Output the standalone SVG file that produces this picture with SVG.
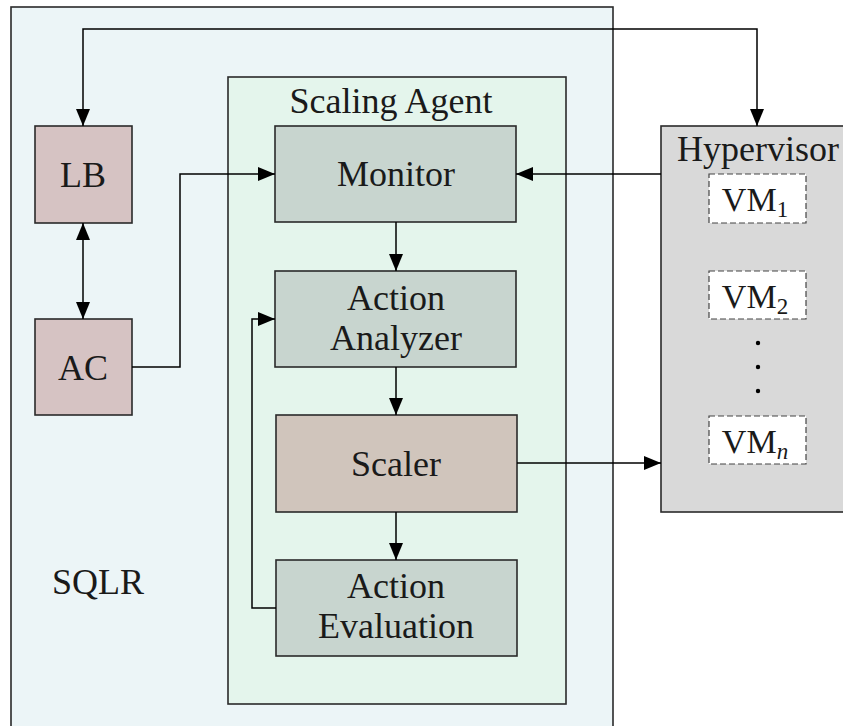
<svg xmlns="http://www.w3.org/2000/svg" width="843" height="726" viewBox="0 0 843 726">
<style>
.t{font-family:"Liberation Serif","DejaVu Serif",serif;font-size:36px;fill:#1a1a1a;text-anchor:middle}
.box{stroke:#2a2a2a;stroke-width:1.6}
.vm{fill:#ffffff;stroke:#444;stroke-width:1.2;stroke-dasharray:6,3}
.c{fill:none;stroke:#000;stroke-width:1.5}
.v{font-size:34px}
.sub{font-size:23px}
</style>
<defs>
<marker id="ah" markerUnits="userSpaceOnUse" markerWidth="18" markerHeight="15" refX="17" refY="7" orient="auto-start-reverse" viewBox="0 0 18 15">
<path d="M0,0 L17,7 L0,14 z" fill="#000"/>
</marker>
</defs>
<g id="sqlr">
<rect class="box" x="11" y="7" width="602" height="740" fill="#ecf5f7"/>
<text class="t" x="98" y="594">SQLR</text>
</g>
<g id="scaling-agent">
<rect class="box" x="228" y="77" width="338" height="627" fill="#e4f5ec"/>
<text class="t" x="391" y="113">Scaling Agent</text>
</g>
<g id="lb">
<rect class="box" x="35" y="126" width="97" height="97" fill="#d6c3c3"/>
<text class="t" x="83" y="187">LB</text>
</g>
<g id="ac">
<rect class="box" x="35" y="319" width="97" height="96" fill="#d6c3c3"/>
<text class="t" x="83" y="380">AC</text>
</g>
<g id="monitor">
<rect class="box" x="275" y="126" width="241" height="96" fill="#c8d5cf"/>
<text class="t" x="396" y="186">Monitor</text>
</g>
<g id="action-analyzer">
<rect class="box" x="275" y="271" width="241" height="96" fill="#c8d5cf"/>
<text class="t" x="396" y="310">Action</text>
<text class="t" x="396" y="350">Analyzer</text>
</g>
<g id="scaler">
<rect class="box" x="276" y="415" width="241" height="97" fill="#d0c5bc"/>
<text class="t" x="396" y="476">Scaler</text>
</g>
<g id="action-evaluation">
<rect class="box" x="276" y="560" width="241" height="96" fill="#c8d5cf"/>
<text class="t" x="396" y="598">Action</text>
<text class="t" x="396" y="638">Evaluation</text>
</g>
<g id="hypervisor">
<rect class="box" x="661" y="126" width="200" height="386" fill="#d9d9d9"/>
<text class="t" x="758" y="161">Hypervisor</text>
<rect class="vm" x="709" y="174" width="97" height="49"/>
<text class="t v" x="755" y="211">VM<tspan class="sub" dy="6">1</tspan></text>
<rect class="vm" x="709" y="271" width="97" height="48"/>
<text class="t v" x="755" y="308">VM<tspan class="sub" dy="6">2</tspan></text>
<circle cx="758" cy="343" r="2.2" fill="#000"/>
<circle cx="758" cy="367" r="2.2" fill="#000"/>
<circle cx="758" cy="391" r="2.2" fill="#000"/>
<rect class="vm" x="709" y="416" width="97" height="48"/>
<text class="t v" x="755" y="453">VM<tspan class="sub" dy="6" font-style="italic">n</tspan></text>
</g>
<g id="connectors">
<path class="c" d="M83,126 V29 H757 V126" marker-start="url(#ah)" marker-end="url(#ah)"/>
<path class="c" d="M83,223 V319" marker-start="url(#ah)" marker-end="url(#ah)"/>
<path class="c" d="M132,367 H180 V174 H275" marker-end="url(#ah)"/>
<path class="c" d="M661,174 H516" marker-end="url(#ah)"/>
<path class="c" d="M396,222 V271" marker-end="url(#ah)"/>
<path class="c" d="M396,367 V415" marker-end="url(#ah)"/>
<path class="c" d="M396,512 V560" marker-end="url(#ah)"/>
<path class="c" d="M276,608 H252 V319 H275" marker-end="url(#ah)"/>
<path class="c" d="M517,463 H661" marker-end="url(#ah)"/>
</g>
</svg>
